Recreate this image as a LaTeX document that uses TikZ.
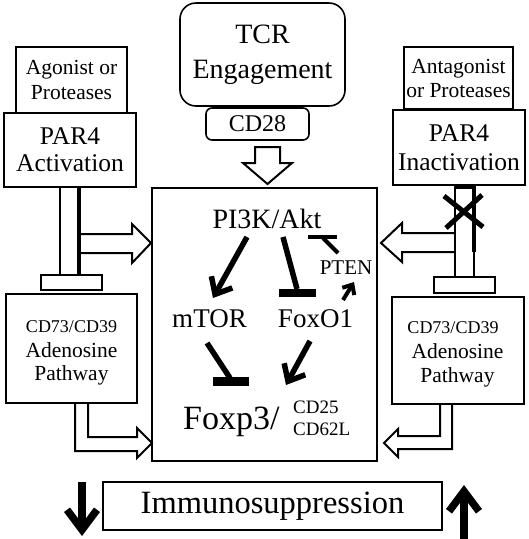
\documentclass[tikz,border=0pt]{standalone}
\usepackage{fontspec}
\setmainfont{Liberation Serif}
\usetikzlibrary{arrows.meta}
\begin{document}
\begin{tikzpicture}[x=1pt,y=-1pt,
  box/.style={draw, line width=1.6pt, inner sep=0pt, outer sep=0pt, align=center},
  hollow/.style={draw, line width=2pt, line join=miter},
  stemline/.style={draw, line width=2pt},
  sig/.style={line width=5.5pt, -{Straight Barb[length=14pt,width=24pt]}},
  smallsig/.style={line width=4pt, -{Straight Barb[length=8pt,width=14pt]}},
  inh/.style={line width=5.5pt},
  bar/.style={line width=8.5pt},
  big/.style={line width=7.5pt, -{Straight Barb[length=20pt,width=30pt]}},
  fsz/.style={font=\fontsize{#1}{#1}\selectfont},
]
\useasboundingbox (0,0) rectangle (529,539);

% ---- top boxes
\node[box, minimum width=165pt, minimum height=103pt, rounded corners=16pt,
      font=\fontsize{28}{35}\selectfont] (tcr) at (262.5,54.5) {TCR\\Engagement};
\node[box, minimum width=103pt, minimum height=32pt, rounded corners=6pt,
      font=\fontsize{24}{26}\selectfont] (cd28) at (257.5,124) {CD28};

\node[box, minimum width=111pt, minimum height=66pt,
      font=\fontsize{21.5}{25}\selectfont] (agon) at (71.5,80) {Agonist or\\Proteases};
\node[box, minimum width=132pt, minimum height=74pt,
      font=\fontsize{25.5}{27}\selectfont] (par4a) at (70,150) {PAR4\\Activation};

\node[box, minimum width=109pt, minimum height=62pt,
      font=\fontsize{21.5}{24}\selectfont] (antag) at (458.5,78) {Antagonist\\or Proteases};
\node[box, minimum width=132pt, minimum height=75pt,
      font=\fontsize{25.5}{29}\selectfont] (par4i) at (459,147.5) {PAR4\\Inactivation};

% ---- adenosine boxes
\node[box, minimum width=131pt, minimum height=109pt] (ado1) at (71.5,348.5) {};
\node[fsz=18, anchor=base] (ado1a) at (71.5,332) {CD73/CD39};
\node[fsz=21.5, anchor=base] (ado1b) at (71.5,357) {Adenosine};
\node[fsz=21.5, anchor=base] (ado1c) at (71.5,380) {Pathway};

\node[box, minimum width=132pt, minimum height=107pt] (ado2) at (458,350.5) {};
\node[fsz=18, anchor=base] (ado2a) at (453,333) {CD73/CD39};
\node[fsz=21.5, anchor=base] (ado2b) at (457.5,358) {Adenosine};
\node[fsz=21.5, anchor=base] (ado2c) at (457.5,382) {Pathway};

% ---- core box
\node[box, minimum width=225pt, minimum height=273pt] (core) at (264.5,324.5) {};
\node[fsz=28, anchor=base] (pi3k) at (267,228) {PI3K/Akt};
\node[fsz=27, anchor=base] (mtor) at (209.5,327) {mTOR};
\node[fsz=27, anchor=base] (foxo1) at (315.5,327) {FoxO1};
\node[fsz=21, anchor=base] (pten) at (346,274) {PTEN};
\node[fsz=34, anchor=base west, inner sep=0pt] (foxp3) at (183,429) {Foxp3/};
\node[fsz=19, anchor=base west, inner sep=0pt] (cd25) at (293,413) {CD25};
\node[fsz=19, anchor=base west, inner sep=0pt] (cd62l) at (293,435) {CD62L};

% ---- bottom
\node[box, minimum width=339pt, minimum height=48pt,
      font=\fontsize{32.5}{34}\selectfont] (immuno) at (272.5,506) {Immunosuppression};

% ---- connector end points inside core
\coordinate (p1) at (247,237);  \coordinate (m1) at (213,298);
\coordinate (p2) at (283,237);  \coordinate (f1) at (297,289);
\coordinate (t1) at (338,253);  \coordinate (t2) at (323,238);
\coordinate (f2) at (343,300);  \coordinate (t3) at (354,282);
\coordinate (f3) at (310,341);  \coordinate (x1) at (286,385);
\coordinate (m2) at (207,343);  \coordinate (x2) at (230,378);

\draw[sig] (p1) -- (m1);
\draw[inh] (p2) -- (f1);
\draw[bar] (279,293) -- (316,293);
\draw[line width=4pt] (t1) -- (t2);
\draw[line width=4.5pt] (308,237) -- (337,237);
\draw[smallsig] (f2) -- (t3);
\draw[sig] (f3) -- (x1);
\draw[inh] (m2) -- (x2);
\draw[line width=9pt] (213,381.5) -- (249,381.5);

% ---- TCR hollow arrow
\draw[hollow] (255,147) -- (255,163) -- (243,163) -- (267.5,184) -- (292,163)
   -- (280,163) -- (280,147) -- cycle;

% ---- left PAR4 stem, T bar and hollow arrow
\draw[stemline] (60,187) rectangle (79,275);
\draw[line width=3.5pt] (79,187) -- (79,275);
\draw[stemline] (41,275) rectangle (102,290);
\draw[hollow] (79,234) -- (132,234) -- (132,224) -- (151,243) -- (132,263)
   -- (132,253) -- (79,253);

% ---- right PAR4 stem, T bar, cross and hollow arrow
\draw[stemline] (455,186) rectangle (474,277);
\draw[line width=4pt] (455,187) -- (474,187);
\draw[line width=3.5pt] (474,186) -- (474,252);
\draw[stemline] (434,277) rectangle (495,293);
\draw[hollow] (455,233) -- (402,233) -- (402,223) -- (381,243) -- (402,262)
   -- (402,252) -- (455,252);
\draw[line width=5pt] (444,196) -- (483,227);
\draw[line width=5pt] (446,228) -- (482,195);

% ---- adenosine hollow arrows
\draw[hollow] (75,403) -- (75,451) -- (137,451) -- (137,458) -- (152,443)
   -- (137,428) -- (137,437) -- (88,437) -- (88,403);
\draw[hollow] (452,404) -- (452,449) -- (398,449) -- (398,457) -- (384,443)
   -- (398,429) -- (398,436) -- (440,436) -- (440,404);

% ---- big arrows
\coordinate (dn1) at (82,482); \coordinate (dn2) at (82,536);
\coordinate (up1) at (464,539); \coordinate (up2) at (464,485);
\draw[big] (dn1) -- (dn2);
\draw[big] (up1) -- (up2);
\end{tikzpicture}
\end{document}
